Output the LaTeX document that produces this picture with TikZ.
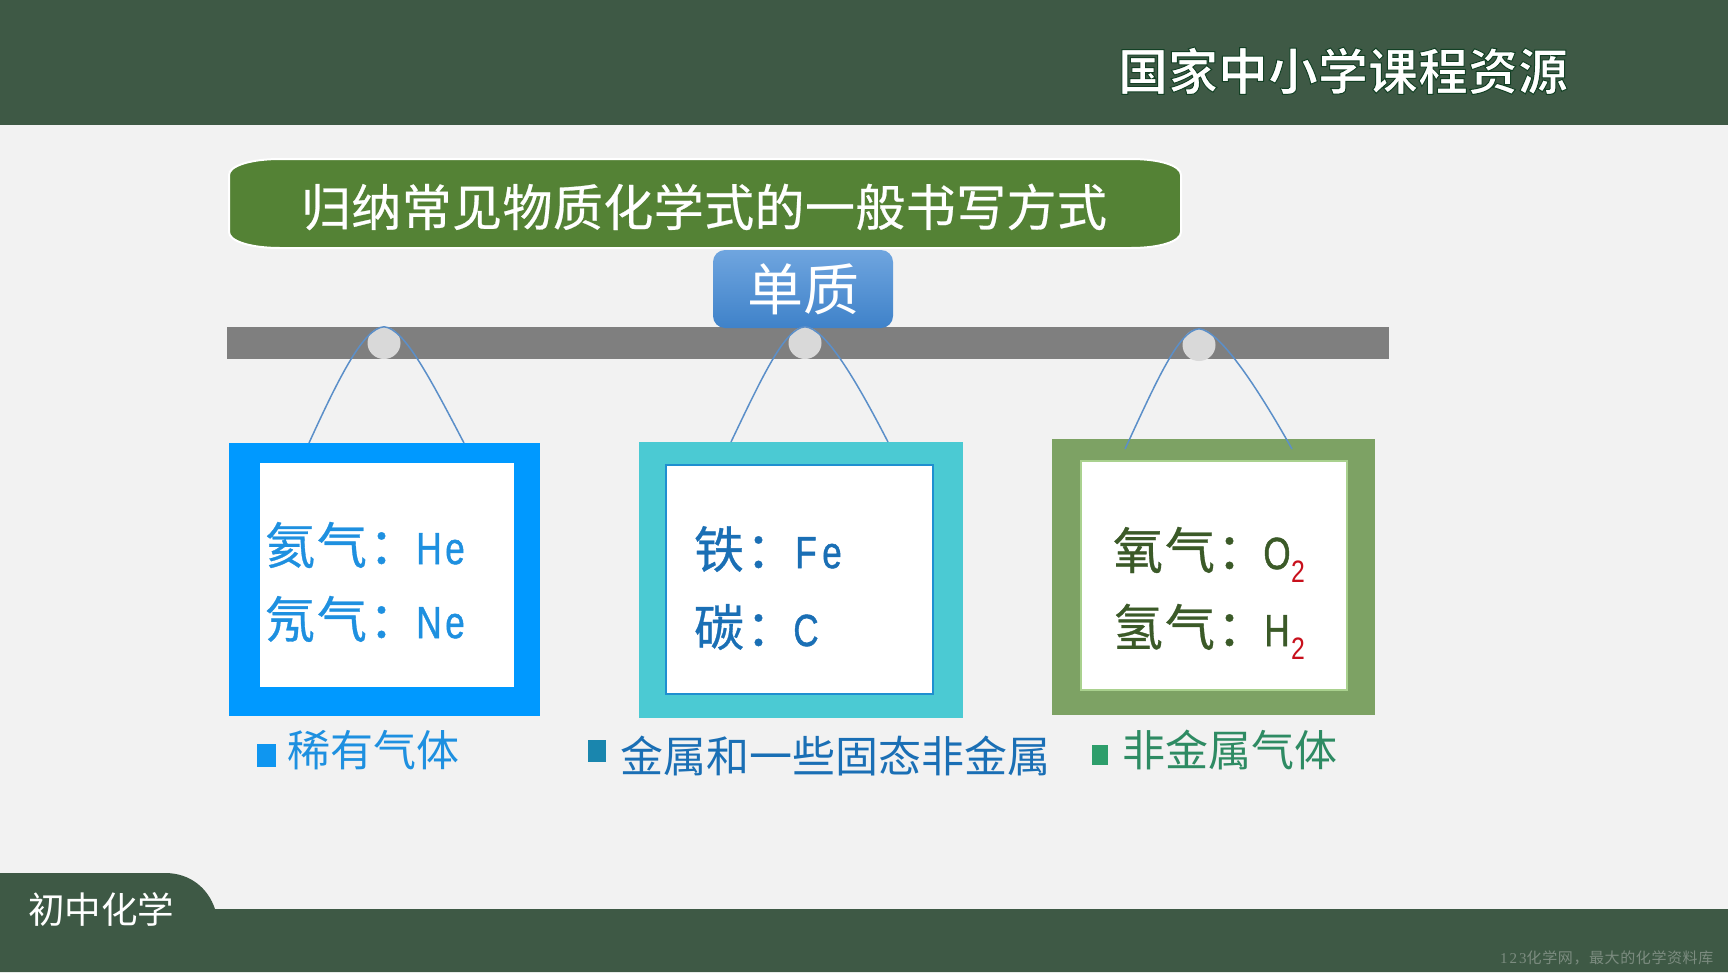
\documentclass[tikz,border=0pt]{standalone}
\usepackage{fontspec}
\usepackage{graphicx}
\setmainfont{Noto Sans CJK SC}
\newfontfamily\cjkwide[LetterSpace=4,FakeBold=0.6]{Noto Sans CJK SC}
\newfontfamily\titlefont[LetterSpace=0.8,FakeBold=0.5]{Noto Sans CJK SC}
\newfontfamily\logofont[FakeBold=2]{Noto Sans CJK SC Bold}
\newfontfamily\markfont[LetterSpace=4]{Noto Sans CJK SC}
\newfontfamily\marklat[LetterSpace=14]{Liberation Serif}
\newfontfamily\latn[FakeBold=1.2]{Liberation Sans}
\newfontfamily\latnsub{Liberation Sans}
\definecolor{band}{HTML}{3E5945}
\definecolor{paper}{HTML}{F2F2F2}
\definecolor{barc}{HTML}{7F7F7F}
\definecolor{pinc}{HTML}{D9D9D9}
\definecolor{stringc}{HTML}{5B8FC9}
\definecolor{titlec}{HTML}{548235}
\definecolor{blueA}{HTML}{0099FF}
\definecolor{tealA}{HTML}{4BCAD3}
\definecolor{greenA}{HTML}{7DA264}
\definecolor{textA}{HTML}{1E90E0}
\definecolor{textB}{HTML}{1A6FB5}
\definecolor{textC}{HTML}{3B5A28}
\definecolor{textD}{HTML}{2E8B63}
\definecolor{redsub}{HTML}{C8101C}
\definecolor{markc}{HTML}{7C8C80}
\definecolor{kindtop}{HTML}{6FA5DF}
\definecolor{kindbot}{HTML}{3F82C9}
\definecolor{edgeB}{HTML}{1F8FD0}
\definecolor{edgeC}{HTML}{A9D18E}
\definecolor{keyA}{HTML}{0F96F0}
\definecolor{keyB}{HTML}{1A86AE}
\definecolor{keyC}{HTML}{2E9E6B}
\newcommand\hw[1]{\makebox[26pt][c]{\scalebox{.78}[1]{\latn\fontsize{45}{50}\selectfont #1}}}
\newcommand\subred[1]{\raisebox{-13pt}{\textcolor{redsub}{\scalebox{.8}[1]{\latnsub\fontsize{31}{31}\selectfont #1}}}}
\newcommand\gapl{\kern-3pt}
\usetikzlibrary{shapes.geometric}
\tikzset{
  txt/.style={anchor=base west,inner sep=0pt,outer sep=0pt},
  bodytxt/.style={txt,font=\cjkwide\fontsize{50}{60}\selectfont},
  captxt/.style={txt,font=\fontsize{43}{50}\selectfont},
  boxn/.style={anchor=north west,inner sep=0pt,outer sep=0pt,rectangle},
  pinn/.style={ellipse,fill=pinc,minimum width=33pt,minimum height=32pt,inner sep=0pt},
  hang/.style={draw=stringc,line width=1.5pt}
}
\begin{document}
\begin{tikzpicture}[x=1pt,y=-1pt]
\useasboundingbox (0,0) rectangle (1728,972);
\fill[paper] (0,0) rectangle (1728,972);
% bands
\fill[band] (0,0) rectangle (1728,125);
\fill[band] (0,873) -- (165,873) .. controls (190,873) and (208,888) .. (215,909) -- (1728,909) -- (1728,972) -- (0,972) -- cycle;
\node[txt,text=white,font=\fontsize{36.5}{40}\selectfont] (course) at (28,923) {初中化学};
\node[txt,font=\logofont\fontsize{50}{60}\selectfont] (logo) at (1118,90) {\special{pdf:bcolor [1 1 1] [0.07 0.25 0.14]}国家中小学课程资源\special{pdf:ecolor}};
\node[txt,text=markc,font=\markfont\fontsize{15}{18}\selectfont] (mark) at (1500,963) {{\marklat 123}化学网，最大的化学资料库};
% title
\draw[white,line width=2pt,fill=titlec] (280,159) -- (1131,159) .. controls (1161,159) and (1181,166) .. (1181,175) -- (1181,232) .. controls (1181,241) and (1161,248) .. (1131,248) -- (280,248) .. controls (250,248) and (229,241) .. (229,232) -- (229,175) .. controls (229,166) and (250,159) .. (280,159) -- cycle;
\node[txt,text=white,font=\titlefont\fontsize{50}{60}\selectfont] (title) at (301,226) {归纳常见物质化学式的一般书写方式};
% bar
\fill[barc] (227,327) rectangle (1389,359);
% kind box
\node[boxn,rounded corners=12pt,top color=kindtop,bottom color=kindbot,minimum width=180pt,minimum height=78pt,text=white,font=\fontsize{56}{60}\selectfont] (kind) at (713,250) {\raisebox{-4pt}{单质}};
% pins
\node[pinn] (p1) at (384,343) {};
\node[pinn] (p2) at (805,343) {};
\node[pinn] (p3) at (1199,345) {};
% frames
\node[boxn,fill=blueA,minimum width=311pt,minimum height=273pt] (f1) at (229,443) {};
\node[boxn,fill=white,minimum width=254pt,minimum height=224pt] (i1) at (260,463) {};
\node[boxn,fill=tealA,minimum width=324pt,minimum height=276pt] (f2) at (639,442) {};
\node[boxn,fill=white,draw=edgeB,line width=1.5pt,minimum width=267pt,minimum height=229pt] (i2) at (666,465) {};
\node[boxn,fill=greenA,minimum width=323pt,minimum height=276pt] (f3) at (1052,439) {};
\node[boxn,fill=white,draw=edgeC,line width=1.5pt,minimum width=266pt,minimum height=229pt] (i3) at (1081,461) {};
% hanging strings
\coordinate (s1l) at (309,443); \coordinate (s1r) at (464,443);
\coordinate (s2l) at (731,442); \coordinate (s2r) at (888,442);
\coordinate (s3l) at (1125,449); \coordinate (s3r) at (1292,449);
\draw[hang] (s1l) .. controls (340,375) and (364,328) .. (p1.north) .. controls (404,328) and (430,378) .. (s1r);
\draw[hang] (s2l) .. controls (763,375) and (785,328) .. (p2.north) .. controls (825,328) and (855,378) .. (s2r);
\draw[hang] (s3l) .. controls (1157,380) and (1179,330) .. (p3.north) .. controls (1219,330) and (1256,385) .. (s3r);
% frame texts
\node[bodytxt,text=textA] (a1) at (265,564) {氦气：\gapl\hw{H}\hw{e}};
\node[bodytxt,text=textA] (a2) at (265,638) {氖气：\gapl\hw{N}\hw{e}};
\node[bodytxt,text=textB] (b1) at (694,568) {铁：\gapl\hw{F}\hw{e}};
\node[bodytxt,text=textB] (b2) at (694,646) {碳：\gapl\hw{C}};
\node[bodytxt,text=textC] (c1) at (1113,569) {氧气：\gapl\hw{O}\kern1pt\subred{2}};
\node[bodytxt,text=textC] (c2) at (1113,646) {氢气：\gapl\hw{H}\kern1pt\subred{2}};
% captions
\node[boxn,fill=keyA,minimum width=19pt,minimum height=23pt] (k1) at (257,744) {};
\node[captxt,text=textA] (l1) at (287,766) {稀有气体};
\node[boxn,fill=keyB,minimum width=18pt,minimum height=22pt] (k2) at (588,740) {};
\node[captxt,text=textB] (l2) at (620,772) {金属和一些固态非金属};
\node[boxn,fill=keyC,minimum width=16pt,minimum height=20pt] (k3) at (1092,745) {};
\node[captxt,text=textD] (l3) at (1122,766) {非金属气体};
\end{tikzpicture}
\end{document}
